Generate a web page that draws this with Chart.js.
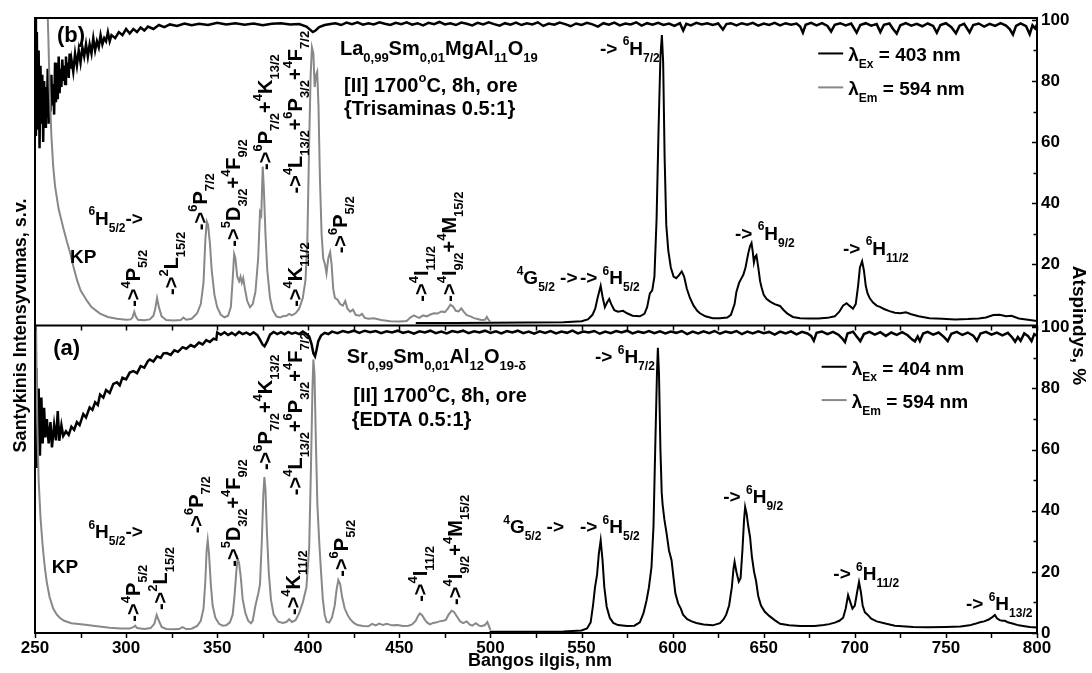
<!DOCTYPE html>
<html>
<head>
<meta charset="utf-8">
<title>Sm3+ sužadinimo ir emisijos spektrai</title>
<script src="https://cdn.jsdelivr.net/npm/chart.js@4.4.1/dist/chart.umd.min.js"></script>
<style>
  html, body { margin: 0; background: #fff; }
  canvas { display: block; }
</style>
</head>
<body>
<canvas id="spectra" width="1092" height="673"></canvas>
<script>
const FONT = '"Liberation Sans", Arial, sans-serif';
const GRAY = "#888888";

// (b) La0,99Sm0,01MgAl11O19 — excitation (gray, λEm = 594 nm), [nm, s.v.]
const excitationB = [
  [250, 200], [255, 150], [256.5, 110], [257.3, 95], [258, 78], [259, 62], [260, 52], [261, 45.6],
  [263, 38], [265.5, 32], [267.5, 27.5], [269.2, 24], [271, 19.5], [273, 15], [275, 11.5],
  [278.4, 8.2], [281, 6], [285.7, 3.9], [290, 2.8], [295, 2.2], [300, 1.9], [302.5, 2.0],
  [303.5, 2.6], [304.5, 4.5], [305.3, 3.0], [306.5, 1.9], [310, 1.7], [313, 2.0], [315, 3.2],
  [316, 5.5], [317, 9], [318, 6], [319.5, 3], [322, 1.8], [326, 1.6], [330, 1.8], [331.5, 2.6],
  [333, 1.9], [336, 2.2], [339, 4], [341, 7], [342.5, 14], [343.5, 28], [344.3, 34], [345, 33],
  [346, 27], [347, 18], [348.5, 10], [350, 6], [352, 3.5], [354, 2.7], [356, 3.2], [357.5, 6],
  [358.5, 15], [359.3, 23.4], [360, 22], [361, 16], [362, 14.5], [362.8, 16], [363.5, 14],
  [364.3, 15.5], [365.2, 12], [366.5, 8], [368, 6], [369.5, 7], [371, 11], [372.5, 22],
  [373.5, 37], [374.2, 36], [375, 52], [375.6, 45], [376.5, 30], [377.5, 18], [379, 9],
  [380.5, 5], [382.5, 3], [384.5, 2.6], [386, 3], [388, 3.2], [389.5, 3.8], [391, 3.3], [393, 4],
  [395, 5.5], [397, 9], [398.5, 15], [399.5, 28], [400.5, 60], [401.3, 82], [402, 91],
  [402.8, 89], [403.5, 78], [404.3, 82], [404.9, 83], [405.6, 72], [406.4, 48], [407.3, 30],
  [408.2, 22], [409.2, 20], [410, 17], [411, 22], [412, 24], [412.8, 20], [413.7, 12],
  [414.6, 9], [416, 8.5], [417.5, 7], [419, 6.5], [420.3, 8], [421.5, 5.5], [423, 4.5],
  [424.5, 5.2], [426, 3.5], [428, 3.2], [429.5, 3.8], [431, 2.5], [433, 2.2], [436, 2.4],
  [440, 1.8], [445, 1.4], [450, 1.3], [454, 1.5], [456, 2.6], [458, 3.3], [459.5, 2.8],
  [461, 2.5], [463, 3.3], [465, 3.0], [467, 3.6], [469, 4.0], [471, 3.9], [473, 4.6], [475, 4.4],
  [476.5, 5.4], [478, 6.8], [479.5, 6.2], [481, 4.8], [482.5, 4.6], [484, 5.6], [485.5, 4.4],
  [487, 3.4], [489, 3.0], [491, 2.4], [493, 2.1], [495, 1.8], [497, 1.9], [498, 2.8], [499, 1.8],
  [500, 1.2]
];

// (b) emission (black, λEx = 403 nm)
const emissionB = [
  [459, 0.8], [480, 0.8], [500, 0.9], [520, 1.0], [540, 1.1], [550, 1.4], [553.5, 2], [556, 3.5],
  [557.5, 5.5], [558.8, 9], [560.5, 13], [561.5, 9.5], [562.8, 6], [564, 7.5], [565.2, 8.7],
  [566.3, 7], [568, 5], [570, 4.5], [572.8, 4.8], [575, 4.0], [578, 3.2], [582, 3.0],
  [584.5, 3.8], [586, 6], [587.5, 10.5], [588.8, 11.5], [590, 16], [591.2, 35], [592.3, 65],
  [593.3, 88], [594.1, 95], [594.8, 86], [595.6, 55], [596.5, 33], [597.6, 24.6], [599, 19],
  [600.5, 16], [602, 15.5], [603.5, 16.5], [605, 17.7], [606.3, 16], [607.8, 12], [609.5, 9],
  [611.5, 6.5], [613.5, 4.8], [615, 4], [618, 3.0], [622, 2.4], [626, 2.4], [630, 2.6],
  [632, 3.5], [634, 7], [635, 11], [636.5, 14], [637.8, 15.5], [638.8, 16.6], [640, 19],
  [641.5, 23.6], [642.5, 26], [643.3, 27], [644, 24], [644.6, 20.6], [645.3, 22.5], [646, 23],
  [647, 19], [648, 14.5], [648.8, 12.5], [650, 10], [651.5, 8.7], [653.5, 7.8], [656, 7],
  [658.9, 6.4], [661, 5], [663, 3.9], [666, 2.8], [670, 2.4], [675, 2.3], [680, 2.3], [685, 2.5],
  [689, 3.0], [691.5, 4.5], [693.5, 6.5], [695.5, 7.3], [697, 6.5], [699, 5.5], [700.5, 7],
  [701.8, 13], [702.8, 19], [704, 21], [705, 18], [706, 13], [707, 10.5], [708.3, 8.8],
  [710, 7.5], [712, 6.5], [713.8, 6.1], [716, 5.4], [719, 4.7], [722, 4.2], [725, 4], [728, 4.3],
  [731, 3.7], [735, 3.0], [741, 2.4], [748, 2.2], [755, 2.0], [762, 2.1], [768, 2.3], [772, 2.6],
  [776, 3.4], [779.6, 3.5], [783, 3.0], [786, 3.2], [790, 2.3], [795, 1.9], [800, 1.5]
];

// (b) diffuse reflectance, %
const reflectanceB = [
  [250, 100.6], [250.5, 62], [251, 96], [251.5, 64], [252, 90], [252.5, 58], [253, 85],
  [253.5, 66], [254, 82], [254.5, 60], [255, 80], [255.5, 65], [256, 78], [256.5, 68], [257, 84],
  [257.5, 66], [258, 76], [258.5, 70], [259, 82], [259.5, 72], [260, 79], [260.5, 69], [261, 86],
  [261.5, 73], [262, 80], [262.5, 74], [263, 88], [263.5, 76], [264, 84], [264.5, 78], [265, 87],
  [265.5, 80], [266, 85], [266.5, 79], [267, 88], [267.5, 82], [268, 86], [268.5, 81], [269, 89],
  [269.5, 84], [270, 87], [271, 83], [272, 89], [273, 85], [274, 90], [275, 86], [276, 91],
  [277, 88], [278, 92], [279, 88], [280, 92], [281, 89], [282, 94], [283, 90], [284, 93],
  [285, 91], [286, 95], [287, 92], [288, 94], [289, 93], [290, 96], [291, 93], [292, 95],
  [294, 94], [296, 96], [298, 95], [300, 97], [302, 95.5], [304, 97], [306, 96], [308, 97.5],
  [310, 96.5], [312, 97.8], [315, 97], [318, 98.3], [321, 97.6], [324, 98.5], [328, 98],
  [332, 98.8], [336, 98.2], [340, 98.7], [345, 98.3], [350, 99], [355, 98.5], [360, 98.9],
  [365, 98.4], [370, 98.8], [375, 98.2], [380, 98.7], [385, 98.9], [390, 98.5], [395, 98.6],
  [399, 97.8], [401, 96.8], [402.5, 96.0], [404, 96.5], [406, 97.6], [409, 98.3], [413, 98.7],
  [415, 98.9], [418, 98.3], [421, 99.1], [424, 98.6], [427, 99.2], [430, 98.4], [433, 98.9],
  [436, 98.5], [439, 99.2], [442, 98.7], [445, 98.3], [448, 99.0], [451, 98.6], [454, 99.2],
  [457, 98.4], [460, 98.9], [463, 98.2], [466, 99.0], [469, 98.6], [472, 99.3], [475, 98.5],
  [478, 98.9], [481, 98.3], [484, 99.1], [487, 98.7], [490, 98.2], [493, 99.0], [496, 98.5],
  [499, 99.2], [502, 98.6], [505, 98.1], [508, 98.9], [511, 98.4], [514, 99.1], [517, 98.3],
  [520, 98.9], [523, 98.5], [526, 99.2], [529, 98.0], [532, 98.8], [535, 98.4], [538, 99.1],
  [541, 98.6], [544, 97.9], [547, 98.8], [550, 98.3], [553, 99.0], [556, 98.5], [559, 97.8],
  [562, 98.9], [565, 98.4], [568, 99.1], [571, 98.2], [574, 98.8], [577, 98.5], [580, 99.2],
  [583, 98.1], [586, 98.9], [589, 98.4], [592, 99.0], [595, 98.3], [598, 98.8], [601, 98.0],
  [604, 98.9], [605.8, 96.5], [607.5, 98.7], [610, 98.2], [613, 99.0], [616, 98.5], [619, 98.9],
  [622, 98.3], [625, 98.8], [627.6, 96.8], [629.5, 98.6], [632, 98.9], [635, 98.2], [638, 98.9],
  [641, 98.4], [644, 99.0], [647, 98.1], [650, 98.8], [653, 98.3], [656, 99.0], [659, 98.2],
  [662, 98.9], [665, 98.4], [668, 98.8], [670, 97.8], [671.5, 95.8], [673, 98.4], [676, 99.0],
  [679, 98.2], [682, 98.9], [685, 98.0], [687, 96.2], [689, 98.4], [692, 98.9], [695, 98.2],
  [698, 98.8], [701, 95.8], [703, 98.3], [706, 98.9], [709, 98.1], [712, 98.6], [714, 96.0],
  [716, 98.4], [719, 98.8], [721, 97.0], [723, 95.5], [725, 98.2], [728, 98.9], [731, 98.1],
  [734, 98.7], [737, 97.9], [740, 98.8], [743, 98.0], [745, 95.8], [747, 98.3], [750, 98.9],
  [753, 97.6], [755.5, 95.6], [757.5, 98.1], [760, 98.7], [763, 95.9], [765, 98.3], [768, 98.8],
  [771, 97.8], [774, 98.7], [777, 98.0], [780, 98.9], [783, 98.1], [785, 97.0], [786.8, 95.2],
  [788.5, 98.0], [791, 98.8], [794, 97.9], [796, 95.3], [797.5, 98.2], [799, 97.2], [800, 98.5]
];

// (a) Sr0,99Sm0,01Al12O19-δ — excitation (gray, λEm = 594 nm)
const excitationA = [
  [250, 100.6], [250.6, 100], [251.2, 70], [252, 50], [253, 38], [254, 30], [254.6, 26],
  [255.5, 21], [256.5, 16.5], [258, 11.8], [260, 8], [262, 6], [263.7, 4.9], [266, 4],
  [270, 3.2], [276.5, 2.8], [283, 2.3], [291, 1.7], [297, 1.5], [302, 1.5], [304, 1.9],
  [305, 2.4], [306, 1.6], [310, 1.3], [313.5, 1.6], [315.5, 3.0], [316.8, 5.9], [318, 4.0],
  [319.5, 2.0], [322, 1.3], [326, 1.2], [329, 1.3], [331, 1.9], [333, 1.3], [336, 1.4],
  [339, 2.3], [341, 4], [342.5, 8], [343.5, 17], [344.2, 27], [344.8, 30.3], [345.5, 26],
  [346.5, 16], [347.5, 9], [349, 5], [351, 3], [353, 2.4], [355, 2.5], [357, 3.5], [358.5, 6],
  [359.5, 12], [360.5, 20], [361.2, 24.3], [362, 23], [363, 18], [364, 11], [365.5, 6.5],
  [367, 4], [368.5, 3.2], [369.5, 4.0], [371, 9], [372.6, 13], [373.5, 16], [374.5, 30],
  [375.3, 45], [375.9, 51], [376.5, 47], [377.3, 33], [378.3, 20], [379.5, 11], [381, 6],
  [383.5, 3.7], [386, 3.3], [388, 3.6], [389.5, 4.5], [391, 3.6], [393, 4.2], [395, 6.5],
  [397, 10], [399, 15], [400.5, 28], [401.5, 55], [402.3, 80], [402.8, 89.5], [403.4, 85],
  [404.2, 62], [405, 42], [406, 30], [407, 20], [408, 11], [409, 6], [410.1, 3.7], [411.5, 3.4],
  [413, 5], [414.5, 9], [415.5, 14], [416.5, 17.3], [417.5, 16], [418.5, 12], [420, 8],
  [421.5, 6], [423, 4.5], [425, 3.3], [427, 2.6], [430, 2.3], [433, 2.2], [435, 3.0], [437, 2.5],
  [439, 3.1], [441, 2.6], [443, 3.0], [446, 2.5], [449, 2.6], [452, 2.3], [455, 2.4], [457, 2.8],
  [459, 4.0], [460.3, 5.6], [461.3, 6.4], [462.5, 5.8], [464, 4.3], [465.5, 3.3], [466.8, 2.8],
  [468.5, 3.3], [470, 3.4], [472, 3.8], [474, 4.0], [475.5, 4.3], [477, 6.0], [478.7, 7.3],
  [480, 6.9], [481.5, 5.5], [483.3, 3.8], [485, 3.2], [487, 3.8], [488.5, 2.8], [490, 2.4],
  [492, 3.2], [493.5, 2.5], [495, 2.2], [497, 2.6], [498.3, 3.6], [499.2, 2.2], [500, 1.0]
];

// (a) emission (black, λEx = 404 nm)
const emissionA = [
  [499.5, 0.4], [520, 0.4], [540, 0.5], [550, 0.8], [553, 1.5], [555, 3.5], [556.3, 9],
  [557.4, 15], [558.5, 19], [559.5, 26], [560.5, 30.3], [561.5, 24], [562.5, 15], [563.8, 8.6],
  [565.5, 5], [567.4, 3.3], [570, 2.6], [575, 2.3], [579, 2.4], [582, 3.5], [584, 6.5],
  [585.7, 10.7], [587, 15], [588.4, 21.6], [589.5, 35], [590.5, 62], [591.4, 85], [591.9, 93.3],
  [592.5, 85], [593.3, 60], [594, 46], [594.5, 42], [595.5, 37], [596.7, 32.5], [598, 27],
  [599.4, 23.8], [600.5, 18], [601.5, 13], [603, 9.7], [604.5, 8], [605.7, 6], [608, 4.5],
  [610.5, 3.8], [613, 3.3], [617, 2.8], [622, 2.5], [626, 3.2], [628, 4.5], [629.4, 6], [631, 9],
  [632.5, 15], [633.4, 21], [634, 23.3], [635, 20], [636.3, 16.8], [637.3, 18], [638.3, 27],
  [639.2, 37], [639.8, 41.2], [640.6, 39], [641.5, 35], [642.5, 31.4], [643.5, 25], [644.7, 20],
  [645.8, 17], [647, 12], [648.5, 9], [650.5, 7], [653, 5.6], [656, 4.2], [659, 3.0], [664, 2.5],
  [670, 2.3], [678, 2.3], [683, 2.6], [686, 2.9], [689, 3.4], [691.5, 4.0], [693.6, 5], [695, 8],
  [696.3, 12.4], [697.3, 10.5], [698.7, 8], [700, 9], [701.3, 13.5], [702.3, 16.7],
  [703.3, 13.5], [704.3, 9], [705.5, 6.8], [707, 6], [709, 4.7], [712, 3.8], [717.3, 3.0],
  [722, 2.4], [732, 2.0], [740, 1.9], [750, 2.0], [758, 2.1], [763, 2.5], [766, 3.0],
  [768.7, 3.5], [771, 3.8], [773.5, 4.4], [775.5, 5.2], [776.9, 5.9], [778, 4.8], [779.5, 4.2],
  [781, 4.0], [782.4, 4.0], [784, 3.5], [787, 3.0], [790, 2.5], [792.4, 2.3], [796, 2.0],
  [800, 1.8]
];

// (a) diffuse reflectance, %
const reflectanceA = [
  [250, 73.7], [250.7, 86.7], [251.2, 54], [252, 80], [252.7, 58], [253.5, 77], [254.2, 62],
  [255, 73.7], [255.7, 64], [256.5, 70], [257.5, 62], [258.5, 69], [259.3, 60.7], [260.5, 68],
  [261.5, 63], [262.5, 72.6], [263.3, 62.9], [264.5, 68], [265.5, 64.5], [267, 66],
  [268.5, 64.8], [270, 67.5], [271.5, 66.5], [273, 69], [274.5, 68], [276.5, 71.6], [278, 70.5],
  [280, 73.8], [281.5, 73], [283, 75.5], [284.5, 74.6], [285.7, 78], [287.5, 77], [289, 79.5],
  [291, 78.5], [293, 81.5], [295, 82], [296.5, 81], [298, 83.5], [300, 83], [302, 85.2],
  [304, 85.7], [306, 85], [308, 87.3], [310, 86.8], [312, 89], [313, 89.5], [315, 88.8],
  [317, 90.5], [319, 90], [320.5, 91.5], [322.3, 91.6], [324.5, 91], [326.5, 92.5], [328.5, 92],
  [331, 93.5], [333, 93], [335.5, 94.2], [337.5, 93.6], [340, 95], [342, 94.4], [344, 95.8],
  [346, 95.2], [348, 96.3], [349.5, 96], [350, 98.3], [352, 97.6], [354, 98.4], [356, 97.5],
  [358, 98.2], [360, 97.4], [362, 98.5], [364, 97.8], [366, 98.3], [368, 97.6], [370, 98.4],
  [372, 97.5], [373.5, 96], [375, 94.3], [376, 93.8], [377.5, 95.5], [379, 97.6], [381, 98.5],
  [383, 97.8], [385, 98.4], [387, 97.7], [389, 98.5], [391, 97.9], [393, 98.3], [395, 97.8],
  [397, 98.6], [399, 97.8], [400.5, 97], [401.8, 94.5], [402.8, 91.5], [403.7, 90.5],
  [404.5, 92.5], [405.5, 95.5], [407, 97.3], [409, 98.2], [411, 97.8], [413, 98.6], [416, 98.1],
  [419, 98.8], [422, 98.3], [425, 98.9], [428, 98.2], [431, 98.9], [434, 98.4], [437, 98.8],
  [440, 98.1], [443, 98.7], [446, 98.3], [449, 98.9], [452, 98.2], [455, 98.6], [458, 97.9],
  [461, 98.7], [464, 98.3], [467, 98.9], [470, 98.1], [473, 98.6], [476, 98.0], [479, 98.8],
  [482, 98.4], [485, 98.9], [488, 98.1], [491, 98.7], [494, 98.3], [497, 98.9], [500, 98.2],
  [503, 98.7], [506, 98.0], [509, 98.8], [512, 98.3], [515, 98.9], [518, 98.1], [521, 98.6],
  [524, 97.9], [527, 98.7], [530, 98.2], [533, 98.8], [536, 98.0], [539, 98.6], [542, 98.2],
  [545, 98.9], [548, 98.0], [551, 98.6], [554, 98.3], [557, 98.8], [560, 97.9], [563, 98.6],
  [566, 98.1], [569, 98.8], [572, 98.3], [575, 98.9], [578, 98.0], [581, 98.6], [584, 98.2],
  [587, 98.8], [590, 98.1], [593, 98.7], [596, 98.0], [599, 98.6], [602, 98.2], [605, 98.8],
  [608, 97.8], [611, 98.6], [614, 98.0], [617, 98.7], [620, 98.1], [623, 98.8], [626, 97.9],
  [629, 98.6], [632, 98.2], [635, 98.8], [638, 97.8], [641, 98.6], [644, 98.0], [647, 98.7],
  [650, 98.1], [653, 98.5], [656, 97.6], [659, 98.6], [662, 98.0], [665, 98.7], [668, 97.7],
  [671, 98.5], [674, 98.0], [676, 97.2], [677.5, 95.6], [679, 98.2], [682, 98.6], [685, 97.8],
  [688, 98.5], [691, 97.6], [693, 96.4], [694.6, 95.2], [696, 98.0], [699, 98.6], [701, 97.0],
  [703, 95.5], [705, 97.8], [708, 98.5], [711, 97.6], [714, 98.4], [717, 97.2], [720, 98.3],
  [723, 97.5], [726, 98.4], [729, 97.4], [731.5, 96.0], [733, 95.4], [734.5, 97.0],
  [735.7, 95.5], [737.5, 98.0], [740, 98.5], [743, 97.6], [746, 98.3], [749, 96.8], [751, 95.5],
  [753, 97.9], [756, 98.5], [759, 97.5], [762, 98.3], [765, 97.3], [767, 95.6], [769, 98.0],
  [772, 98.5], [775, 97.6], [778, 98.3], [781, 97.4], [784, 98.2], [786.5, 96.6], [788, 95.3],
  [789.5, 96.8], [791, 95.6], [793, 98.0], [795, 97.2], [797, 95.5], [798.5, 97.8], [800, 97.2]
];

// Axis ranges and ticks
const xRange = [250, 800];
const xMajorStep = 50;
const xMinorStep = 25;
const yRange = [0, 100.6];
const yTickValues = [0, 20, 40, 60, 80, 100];
const yMinorStep = 10;

// Labels: ^{..} superscript, _{..} subscript; positions are [nm, value] on the panel axis
const labelsB = [
  { nm: 262.1, v: 92.7, size: 22, text: "(b)" },
  { nm: 417.4, v: 88.5, size: 20, text: "La_{0,99}Sm_{0,01}MgAl_{11}O_{19}" },
  { nm: 419.6, v: 76.4, size: 20, text: "[II] 1700^{o}C, 8h, ore" },
  { nm: 419.6, v: 69.0, size: 20, text: "{Trisaminas 0.5:1}" },
  { nm: 560.1, v: 88.5, size: 19, text: "-> ^{6}H_{7/2}" },
  { nm: 634.2, v: 28.0, size: 19, text: "-> ^{6}H_{9/2}" },
  { nm: 693.5, v: 23.1, size: 19, text: "-> ^{6}H_{11/2}" },
  { nm: 549.1, v: 13.5, size: 19, text: "-> ^{6}H_{5/2}" },
  { nm: 514.4, v: 13.5, size: 19, text: "^{4}G_{5/2} ->" },
  { nm: 279.3, v: 32.9, size: 19, text: "^{6}H_{5/2}->" },
  { nm: 269.2, v: 20.3, size: 19, text: "KP" },
  { nm: 307.6, v: 6.1, size: 20, rot: true, text: "->^{4}P_{5/2}" },
  { nm: 328.3, v: 10.0, size: 20, rot: true, text: "->^{2}L_{15/2}" },
  { nm: 344.2, v: 31.2, size: 20, rot: true, text: "->^{6}P_{7/2}" },
  { nm: 362.5, v: 25.8, size: 20, rot: true, text: "->^{5}D_{3/2}+^{4}F_{9/2}" },
  { nm: 379.9, v: 50.9, size: 20, rot: true, text: "->^{6}P_{7/2}+^{4}K_{13/2}" },
  { nm: 396.4, v: 6.1, size: 20, rot: true, text: "->^{4}K_{11/2}" },
  { nm: 396.4, v: 43.2, size: 20, rot: true, text: "->^{4}L_{13/2}+^{6}P_{3/2}+^{4}F_{7/2}" },
  { nm: 421.0, v: 23.6, size: 20, rot: true, text: "->^{6}P_{5/2}" },
  { nm: 465.5, v: 7.8, size: 20, rot: true, text: "->^{4}I_{11/2}" },
  { nm: 480.9, v: 7.8, size: 20, rot: true, text: "->^{4}I_{9/2}+^{4}M_{15/2}" }
];

const labelsA = [
  { nm: 260.0, v: 90.9, size: 22, text: "(a)" },
  { nm: 421.1, v: 88.2, size: 20, text: "Sr_{0,99}Sm_{0,01}Al_{12}O_{19-\u03b4}" },
  { nm: 424.7, v: 75.7, size: 20, text: "[II] 1700^{o}C, 8h, ore" },
  { nm: 423.8, v: 67.7, size: 20, text: "{EDTA 0.5:1}" },
  { nm: 557.4, v: 88.2, size: 19, text: "-> ^{6}H_{7/2}" },
  { nm: 627.8, v: 42.4, size: 19, text: "-> ^{6}H_{9/2}" },
  { nm: 549.1, v: 32.6, size: 19, text: "-> ^{6}H_{5/2}" },
  { nm: 507.0, v: 32.6, size: 19, text: "^{4}G_{5/2} ->" },
  { nm: 688.2, v: 17.3, size: 19, text: "-> ^{6}H_{11/2}" },
  { nm: 761.0, v: 7.5, size: 19, text: "-> ^{6}H_{13/2}" },
  { nm: 279.3, v: 31.0, size: 19, text: "^{6}H_{5/2}->" },
  { nm: 259.2, v: 19.5, size: 19, text: "KP" },
  { nm: 307.6, v: 3.7, size: 20, rot: true, text: "->^{4}P_{5/2}" },
  { nm: 322.3, v: 7.5, size: 20, rot: true, text: "->^{2}L_{15/2}" },
  { nm: 342.4, v: 32.6, size: 20, rot: true, text: "->^{6}P_{7/2}" },
  { nm: 362.5, v: 21.7, size: 20, rot: true, text: "->^{5}D_{3/2}+^{4}F_{9/2}" },
  { nm: 379.9, v: 53.3, size: 20, rot: true, text: "->^{6}P_{7/2}+^{4}K_{13/2}" },
  { nm: 395.4, v: 5.9, size: 20, rot: true, text: "->^{4}K_{11/2}" },
  { nm: 396.4, v: 45.1, size: 20, rot: true, text: "->^{4}L_{13/2}+^{6}P_{3/2}+^{4}F_{7/2}" },
  { nm: 422.0, v: 18.4, size: 20, rot: true, text: "->^{6}P_{5/2}" },
  { nm: 465.0, v: 10.2, size: 20, rot: true, text: "->^{4}I_{11/2}" },
  { nm: 484.2, v: 9.2, size: 20, rot: true, text: "->^{4}I_{9/2}+^{4}M_{15/2}" }
];

// Legend rows: line from nm1 to nm2 at value v, text starting at textNm
const legendB = [
  { v: 89.0, nm1: 679.9, nm2: 693.6, textNm: 696.4, color: "#000", text: "\u03bb_{Ex} = 403 nm" },
  { v: 77.9, nm1: 679.9, nm2: 693.6, textNm: 696.4, color: GRAY, text: "\u03bb_{Em} = 594 nm" }
];
const legendA = [
  { v: 87.1, nm1: 681.8, nm2: 695.5, textNm: 698.3, color: "#000", text: "\u03bb_{Ex} = 404 nm" },
  { v: 76.2, nm1: 681.8, nm2: 695.5, textNm: 698.3, color: GRAY, text: "\u03bb_{Em} = 594 nm" }
];

const toPoints = (pairs) => pairs.map(([x, y]) => ({ x, y }));

const parseRich = (str) => {
  const parts = [];
  const re = /([\^_])\{([^}]*)\}|([^\^_]+)/g;
  let m;
  while ((m = re.exec(str))) {
    if (m[3]) parts.push([m[3], null]);
    else parts.push([m[2], m[1] === "^" ? "sup" : "sub"]);
  }
  return parts;
};

const drawRich = (ctx, str, x, y, size, rotate = 0) => {
  const small = Math.round(size * 0.63);
  ctx.save();
  ctx.translate(x, y);
  if (rotate) ctx.rotate(rotate);
  ctx.textAlign = "left";
  ctx.textBaseline = "alphabetic";
  let cx = 0;
  for (const [text, mode] of parseRich(str)) {
    ctx.font = `bold ${mode ? small : size}px ${FONT}`;
    const dy = mode === "sup" ? -0.5 * size : mode === "sub" ? 0.35 * size : 0;
    ctx.fillText(text, cx, dy);
    cx += ctx.measureText(text).width;
  }
  ctx.restore();
};

const panelDecor = {
  id: "panelDecor",
  afterDraw(chart) {
    const { ctx, chartArea: area, scales } = chart;
    const x = scales.x;
    const panels = [
      { y: scales.yB, labels: labelsB, legend: legendB },
      { y: scales.yA, labels: labelsA, legend: legendA }
    ];
    ctx.save();
    ctx.strokeStyle = "#000";
    ctx.fillStyle = "#000";

    // frame and the line between the panels
    ctx.lineWidth = 2;
    ctx.strokeRect(area.left, area.top, area.right - area.left, area.bottom - area.top);
    ctx.beginPath();
    ctx.moveTo(area.left, scales.yB.bottom);
    ctx.lineTo(area.right, scales.yB.bottom);
    ctx.stroke();

    // tick marks: x outward under each panel, y inward from the right edge
    ctx.lineWidth = 1.5;
    for (const p of panels) {
      ctx.beginPath();
      for (let v = xRange[0]; v <= xRange[1]; v += xMinorStep) {
        const px = Math.round(x.getPixelForValue(v)) + 0.5;
        ctx.moveTo(px, p.y.bottom);
        ctx.lineTo(px, p.y.bottom + 5);
      }
      for (let v = 0; v <= 100; v += yMinorStep) {
        const py = Math.round(p.y.getPixelForValue(v)) + 0.5;
        const len = yTickValues.includes(v) ? 5 : 3.5;
        ctx.moveTo(area.right, py);
        ctx.lineTo(area.right - len, py);
      }
      ctx.stroke();
    }

    // annotations and legends
    for (const p of panels) {
      for (const lab of p.labels) {
        drawRich(ctx, lab.text, x.getPixelForValue(lab.nm), p.y.getPixelForValue(lab.v),
          lab.size, lab.rot ? -Math.PI / 2 : 0);
      }
      for (const row of p.legend) {
        const py = p.y.getPixelForValue(row.v);
        ctx.strokeStyle = row.color;
        ctx.lineWidth = 2;
        ctx.beginPath();
        ctx.moveTo(x.getPixelForValue(row.nm1), py);
        ctx.lineTo(x.getPixelForValue(row.nm2), py);
        ctx.stroke();
        drawRich(ctx, row.text, x.getPixelForValue(row.textNm), py + 8, 19);
      }
    }

    // axis titles
    ctx.font = `bold 18px ${FONT}`;
    ctx.textAlign = "center";
    ctx.textBaseline = "alphabetic";
    ctx.fillText("Bangos ilgis, nm", 540, 666);
    ctx.save();
    ctx.translate(26, (area.top + area.bottom) / 2);
    ctx.rotate(-Math.PI / 2);
    ctx.fillText("Santykinis Intensyvumas, s.v.", 0, 0);
    ctx.restore();
    ctx.save();
    ctx.font = `bold 19px ${FONT}`;
    ctx.translate(1073, (area.top + area.bottom) / 2);
    ctx.rotate(Math.PI / 2);
    ctx.fillText("Atspindys, %", 0, 0);
    ctx.restore();
    ctx.restore();
  }
};

const tickFont = { family: FONT, size: 17, weight: "bold" };

const panelAxis = (hideZero) => ({
  type: "linear",
  position: "right",
  stack: "panels",
  stackWeight: 1,
  min: yRange[0],
  max: yRange[1],
  grid: { display: false, drawTicks: false },
  border: { display: false },
  ticks: {
    padding: 4,
    color: "#000",
    font: tickFont,
    callback: (v) => (hideZero && v === 0 ? "" : v)
  },
  afterBuildTicks: (scale) => {
    scale.ticks = yTickValues.map((value) => ({ value }));
  },
  afterFit: (scale) => { scale.width = 55; }
});

const lineSet = (points, axis, color, width = 2) => ({
  data: toPoints(points),
  yAxisID: axis,
  borderColor: color,
  borderWidth: width,
  pointRadius: 0,
  tension: 0,
  fill: false
});

new Chart(document.getElementById("spectra"), {
  type: "line",
  data: {
    datasets: [
      lineSet(excitationB, "yB", GRAY),
      lineSet(reflectanceB, "yB", "#000", 2.5),
      lineSet(emissionB, "yB", "#000"),
      lineSet(excitationA, "yA", GRAY),
      lineSet(reflectanceA, "yA", "#000", 2.5),
      lineSet(emissionA, "yA", "#000")
    ]
  },
  options: {
    responsive: false,
    animation: false,
    events: [],
    layout: { padding: { left: 35, top: 18, right: 0, bottom: 0 } },
    plugins: { legend: { display: false }, tooltip: { enabled: false } },
    scales: {
      x: {
        type: "linear",
        min: xRange[0],
        max: xRange[1],
        grid: { display: false, drawTicks: false },
        border: { display: false },
        ticks: {
          stepSize: xMajorStep,
          padding: 5,
          color: "#000",
          font: tickFont,
          maxRotation: 0,
          autoSkip: false
        },
        afterFit: (scale) => { scale.height = 40; }
      },
      yB: panelAxis(true),
      yA: panelAxis(false)
    }
  },
  plugins: [panelDecor]
});
</script>
</body>
</html>
